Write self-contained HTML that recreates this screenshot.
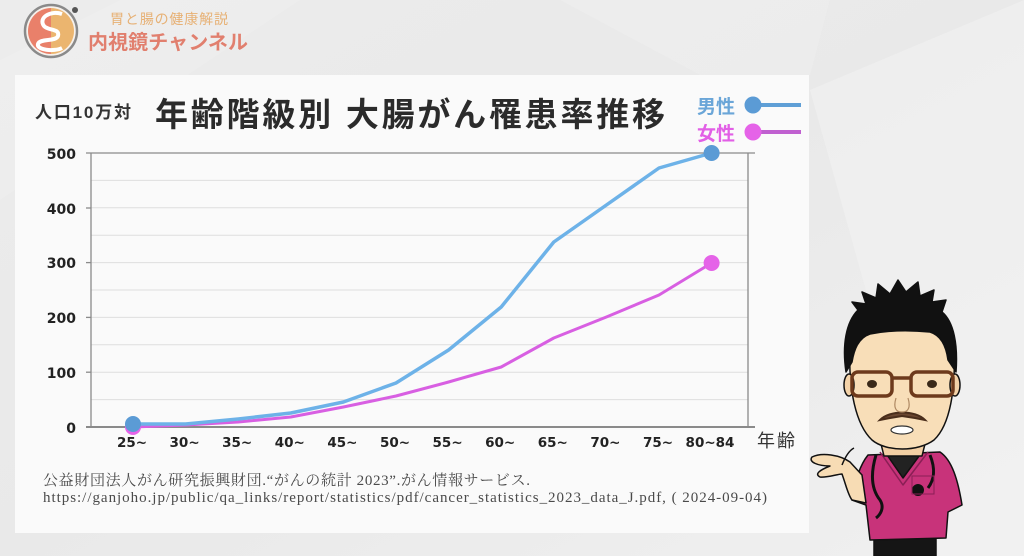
<!DOCTYPE html>
<html><head><meta charset="utf-8"><style>
html,body{margin:0;padding:0;width:1024px;height:556px;overflow:hidden;background:#ebebeb}
svg{display:block}
.jp{font-family:"Liberation Sans","Noto Sans CJK JP",sans-serif}
.num{font-family:"DejaVu Sans","Liberation Sans",sans-serif;font-weight:bold}
.ser{font-family:"Liberation Serif","Noto Serif CJK JP",serif}
</style></head><body>
<svg width="1024" height="556" viewBox="0 0 1024 556" xmlns="http://www.w3.org/2000/svg">
<defs>
<linearGradient id="bg" x1="0" y1="0" x2="1" y2="1">
<stop offset="0" stop-color="#ececec"/><stop offset="0.5" stop-color="#e9e9e9"/><stop offset="1" stop-color="#f0f0f0"/>
</linearGradient>
</defs>
<rect width="1024" height="556" fill="url(#bg)"/>
<polygon points="810,90 1024,0 1024,556 940,556" fill="#f1f1f1" opacity="0.6"/>
<polygon points="560,0 830,0 810,75 700,75" fill="#efefef" opacity="0.5"/>
<polygon points="0,60 120,0 300,0 0,200" fill="#f0f0f0" opacity="0.5"/>

<!-- Logo -->
<circle cx="51" cy="31" r="26" fill="#f6f1ec" stroke="#8a8a8a" stroke-width="2.5"/>
<path d="M51,8 A23,23 0 0 0 51,54 Z" fill="#e9806a"/>
<path d="M51,8 A23,23 0 0 1 51,54 Z" fill="#ebb56f"/>
<path d="M62,14 C50,10 38,18 44,26 C48,31 60,28 58,36 C56,42 40,38 38,44 C36,50 54,52 62,48" fill="none" stroke="#fff" stroke-width="4"/>
<circle cx="75" cy="10" r="3" fill="#555"/>
<text x="110" y="24" class="jp" font-size="14" fill="#e7b175" textLength="118">胃と腸の健康解説</text>
<text x="88" y="49" class="jp" font-size="20" font-weight="bold" fill="#e17f6e" textLength="160">内視鏡チャンネル</text>

<!-- Card -->
<rect x="15" y="75" width="794" height="458" fill="#fafafa"/>

<!-- Titles -->
<text x="35" y="118" class="jp" font-size="17" font-weight="bold" fill="#333" textLength="96">人口10万対</text>
<text x="155" y="126" class="jp" font-size="33" font-weight="bold" fill="#2b2b2b" textLength="510">年齢階級別 大腸がん罹患率推移</text>

<!-- Legend -->
<text x="697" y="113" class="jp" font-size="19" font-weight="bold" fill="#6ba6d8" textLength="38">男性</text>
<text x="697" y="140" class="jp" font-size="19" font-weight="bold" fill="#e25fe6" textLength="38">女性</text>
<line x1="753" y1="105" x2="801" y2="105" stroke="#5f9fd6" stroke-width="4"/>
<circle cx="753" cy="105" r="8.5" fill="#5b9bd5"/>
<line x1="753" y1="132" x2="801" y2="132" stroke="#c060d0" stroke-width="4"/>
<circle cx="753" cy="132" r="8.5" fill="#e563e8"/>

<!-- Grid -->
<g stroke="#dedede" stroke-width="1">
<line x1="91" y1="180.4" x2="748" y2="180.4"/>
<line x1="91" y1="207.8" x2="748" y2="207.8"/>
<line x1="91" y1="235.2" x2="748" y2="235.2"/>
<line x1="91" y1="262.6" x2="748" y2="262.6"/>
<line x1="91" y1="290" x2="748" y2="290"/>
<line x1="91" y1="317.4" x2="748" y2="317.4"/>
<line x1="91" y1="344.8" x2="748" y2="344.8"/>
<line x1="91" y1="372.2" x2="748" y2="372.2"/>
<line x1="91" y1="399.6" x2="748" y2="399.6"/>
</g>
<g stroke="#8a8a8a" stroke-width="1.3">
<line x1="86" y1="153" x2="755" y2="153"/>
<line x1="91" y1="153" x2="91" y2="427"/>
<line x1="748" y1="153" x2="748" y2="427"/>
<line x1="86" y1="427" x2="755" y2="427" stroke-width="2"/>
<line x1="86" y1="208" x2="91" y2="208"/>
<line x1="86" y1="262.6" x2="91" y2="262.6"/>
<line x1="86" y1="317.4" x2="91" y2="317.4"/>
<line x1="86" y1="372.2" x2="91" y2="372.2"/>
</g>

<!-- Y labels -->
<g class="num" font-size="14" fill="#222" text-anchor="end">
<text x="76" y="159">500</text>
<text x="76" y="214">400</text>
<text x="76" y="268">300</text>
<text x="76" y="323">200</text>
<text x="76" y="378">100</text>
<text x="76" y="433">0</text>
</g>
<!-- X labels -->
<g class="num" font-size="13.5" fill="#222" text-anchor="middle">
<text x="132" y="447">25~</text>
<text x="184.6" y="447">30~</text>
<text x="237.2" y="447">35~</text>
<text x="289.8" y="447">40~</text>
<text x="342.4" y="447">45~</text>
<text x="395" y="447">50~</text>
<text x="447.6" y="447">55~</text>
<text x="500.2" y="447">60~</text>
<text x="552.8" y="447">65~</text>
<text x="605.4" y="447">70~</text>
<text x="658" y="447">75~</text>
<text x="710" y="447">80~84</text>
</g>
<text x="757" y="447" class="jp" font-size="18" fill="#333" textLength="38">年齢</text>

<!-- Series -->
<polyline fill="none" stroke="#d85fe2" stroke-width="3" stroke-linejoin="round"
points="133,427 185.6,425 238.2,422 290.8,417 343.4,407 396,396 448.6,382 501.2,367 553.8,338 606.4,317 659,295 711.6,263"/>
<polyline fill="none" stroke="#6db2e8" stroke-width="3.5" stroke-linejoin="round"
points="133,424 185.6,424 238.2,419 290.8,413 343.4,402 396,383 448.6,350 501.2,307 553.8,242 606.4,205 659,168 711.6,153"/>
<circle cx="133" cy="427" r="8" fill="#e563e8"/>
<circle cx="711.6" cy="263" r="8" fill="#e563e8"/>
<circle cx="133" cy="424" r="8" fill="#5b9bd5"/>
<circle cx="711.6" cy="153" r="8" fill="#5b9bd5"/>

<!-- Footnote -->
<text x="43" y="485" class="ser" font-size="15" fill="#4a4a4a" textLength="487">公益財団法人がん研究振興財団.“がんの統計 2023”.がん情報サービス.</text>
<text x="43" y="502" class="ser" font-size="15" fill="#4a4a4a" textLength="724">https://ganjoho.jp/public/qa_links/report/statistics/pdf/cancer_statistics_2023_data_J.pdf, ( 2024-09-04)</text>

<!-- Doctor -->
<g stroke="#111" stroke-width="1.5" stroke-linejoin="round">
<rect x="874" y="533" width="62" height="23" fill="#151515"/>
<path d="M868,455 L940,452 C952,460 958,480 962,505 L948,512 L946,538 L870,540 L866,505 L852,500 C855,480 860,465 868,455 Z" fill="#c8337a"/>
<path d="M885,452 L903,478 L922,452 Z" fill="#222"/>
<path d="M880,452 L903,485 L928,452" fill="none" stroke="#8a1f55"/>
<path d="M852,500 L866,503 L862,475 L850,462 C840,455 822,452 812,457 C808,462 818,466 830,466 C820,470 814,474 820,477 C826,478 838,474 842,474 C846,485 848,495 852,500 Z" fill="#f7dcb4"/>
<path d="M842,465 C846,455 850,450 854,448" fill="none" stroke="#111"/>
<path d="M880,440 L926,440 L922,456 L884,456 Z" fill="#f2cfa4"/>
<path d="M850,345 C848,390 856,425 872,440 C886,452 918,452 934,440 C950,425 956,390 954,345 C950,320 930,310 902,310 C874,310 852,320 850,345 Z" fill="#f8deb8"/>
<ellipse cx="849" cy="385" rx="5" ry="11" fill="#f3d2a8"/>
<ellipse cx="955" cy="385" rx="5" ry="11" fill="#f3d2a8"/>
<path d="M846,372 C842,345 846,322 858,310 L852,302 L866,304 L862,292 L876,298 L878,284 L890,294 L898,280 L906,292 L918,282 L920,296 L934,290 L932,302 L946,300 L942,312 C954,322 958,345 956,372 L948,360 C946,345 940,335 930,332 C910,330 890,330 870,334 C858,338 854,350 852,362 Z" fill="#111"/>
</g>
<g fill="none" stroke="#6e3a1c" stroke-width="3.5">
<rect x="852" y="372" width="40" height="24" rx="6"/>
<rect x="911" y="372" width="42" height="24" rx="6"/>
<line x1="892" y1="378" x2="911" y2="378"/>
</g>
<ellipse cx="872" cy="384" rx="5" ry="4" fill="#3a2a1a"/>
<ellipse cx="932" cy="384" rx="5" ry="4" fill="#3a2a1a"/>
<path d="M880,420 C890,410 915,410 925,420 L915,418 L902,416 L890,418 Z" fill="#6a4630" stroke="#4a2e1c" stroke-width="2"/>
<ellipse cx="902" cy="430" rx="11" ry="4" fill="#fff" stroke="#333" stroke-width="1.2"/>
<path d="M896,398 C893,408 896,412 902,412 C908,412 911,408 908,398" fill="none" stroke="#b08a64" stroke-width="1.2"/>
<g fill="none" stroke="#111" stroke-width="3">
<path d="M876,455 C870,475 872,490 880,500 C885,508 880,515 876,518"/>
<path d="M930,455 C936,470 934,480 928,488"/>
</g>
<circle cx="918" cy="490" r="6" fill="#111"/>
<rect x="912" y="476" width="22" height="18" fill="none" stroke="#8a1f55" stroke-width="1"/>
</svg>
</body></html>
